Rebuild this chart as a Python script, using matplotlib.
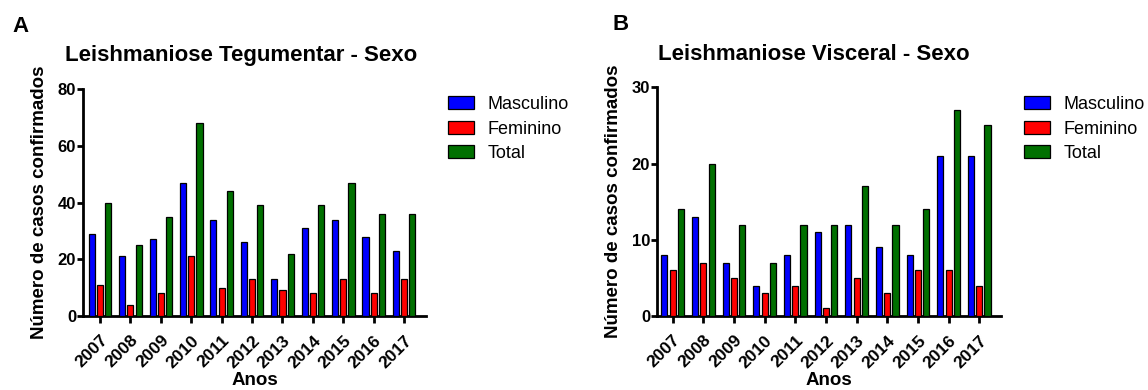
import matplotlib
matplotlib.use("Agg")
import matplotlib.pyplot as plt
import numpy as np

plt.rcParams['font.family'] = ['Liberation Sans', 'DejaVu Sans']

anos = ['2007', '2008', '2009', '2010', '2011', '2012', '2013', '2014', '2015', '2016', '2017']

# Leishmaniose Tegumentar
lt_masculino = [29, 21, 27, 47, 34, 26, 13, 31, 34, 28, 23]
lt_feminino = [11, 4, 8, 21, 10, 13, 9, 8, 13, 8, 13]
lt_total = [40, 25, 35, 68, 44, 39, 22, 39, 47, 36, 36]

# Leishmaniose Visceral
lv_masculino = [8, 13, 7, 4, 8, 11, 12, 9, 8, 21, 21]
lv_feminino = [6, 7, 5, 3, 4, 1, 5, 3, 6, 6, 4]
lv_total = [14, 20, 12, 7, 12, 12, 17, 12, 14, 27, 25]

labels = ['Masculino', 'Feminino', 'Total']
colors = ['#0000ff', '#ff0000', '#007000']

W, H = 1148, 390


def draw_panel(ax, series, ymax, ystep, xlim):
    x = np.arange(len(anos))
    pitch = 0.27
    width = 0.2
    handles = []
    for i, (vals, col) in enumerate(zip(series, colors)):
        b = ax.bar(x + (i - 1) * pitch, vals, width, color=col,
                   edgecolor='black', linewidth=0.9, label=labels[i], zorder=3)
        handles.append(b)
    ax.set_xlim(*xlim)
    ax.set_ylim(0, ymax)
    ax.set_yticks(np.arange(0, ymax + 1, ystep))
    ax.set_xticks(x)
    ax.set_xticklabels(anos, rotation=45, ha='right', rotation_mode='anchor',
                       fontsize=12.5, fontweight='bold')
    for lab in ax.get_yticklabels():
        lab.set_fontsize(12)
        lab.set_fontweight('bold')
    for s in ['top', 'right']:
        ax.spines[s].set_visible(False)
    for s in ['left', 'bottom']:
        ax.spines[s].set_linewidth(2)
    ax.tick_params(axis='y', width=2, length=4, pad=1)
    ax.tick_params(axis='x', width=2, length=5, pad=7)
    ax.set_xlabel('Anos', fontsize=13.5, fontweight='bold', labelpad=1)
    ax.set_ylabel('Número de casos confirmados', fontsize=13.5, fontweight='bold', labelpad=7)
    return handles


fig = plt.figure(figsize=(W / 100, H / 100), dpi=100)

axA = fig.add_axes([83 / W, 1 - 316 / H, (426 - 83) / W, (316 - 89.3) / H])
hA = draw_panel(axA, [lt_masculino, lt_feminino, lt_total], 80, 20, (-0.56, 10.72))

axB = fig.add_axes([657 / W, 1 - 316 / H, (1001 - 657) / W, (316 - 87.3) / H])
hB = draw_panel(axB, [lv_masculino, lv_feminino, lv_total], 30, 10, (-0.51, 10.71))

fig.text(241 / W, 1 - 55 / H, 'Leishmaniose Tegumentar - Sexo', ha='center', va='center',
         fontsize=16, fontweight='bold')
fig.text(814 / W, 1 - 55 / H, 'Leishmaniose Visceral - Sexo', ha='center', va='center',
         fontsize=16, fontweight='bold')
fig.text(12 / W, 1 - 26 / H, 'A', ha='left', va='center', fontsize=16, fontweight='bold')
fig.text(613 / W, 1 - 25 / H, 'B', ha='left', va='center', fontsize=16, fontweight='bold')

for hx, handles in [(448, hA), (1024, hB)]:
    fig.legend(handles, labels, loc='upper left', bbox_to_anchor=(hx / W, 1 - 96 / H),
               frameon=False, fontsize=13, borderpad=0, borderaxespad=0,
               handlelength=1.45, handleheight=0.75, labelspacing=0.42, handletextpad=0.75)

fig.savefig('out.png', dpi=100)
